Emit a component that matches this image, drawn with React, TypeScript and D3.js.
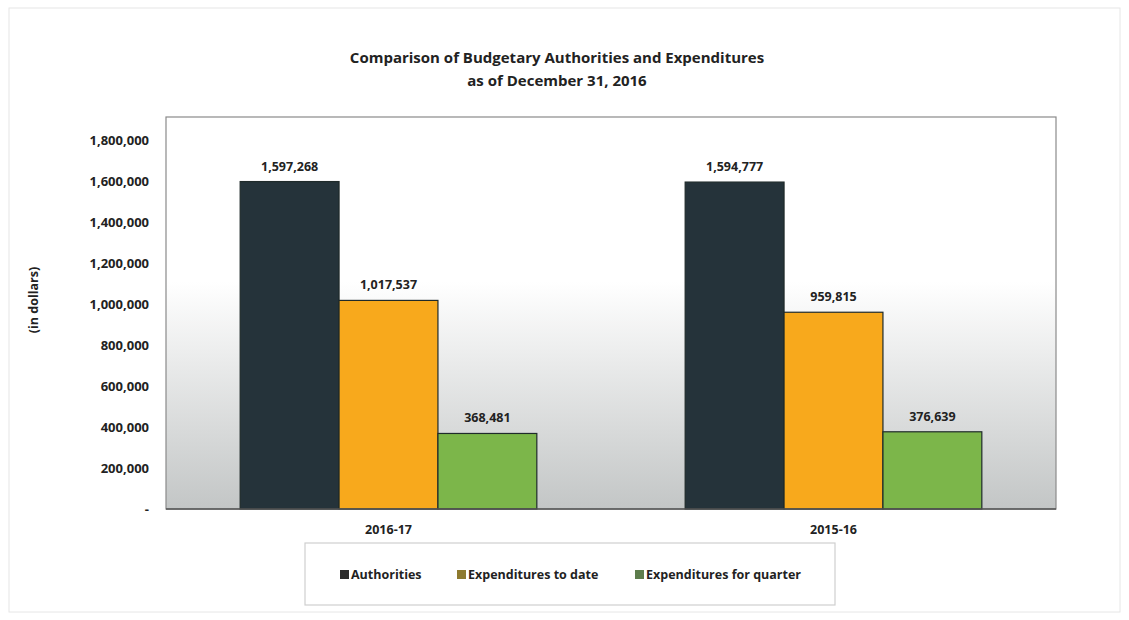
import React from "react";
import * as d3 from "d3";

const years = ["2016-17", "2015-16"];
const seriesNames = ["Authorities", "Expenditures to date", "Expenditures for quarter"];
const authorities = [1597268, 1594777];
const expendToDate = [1017537, 959815];
const expendQuarter = [368481, 376639];
const yTicks = [0, 200000, 400000, 600000, 800000, 1000000, 1200000, 1400000, 1600000, 1800000];
const colors = ["#25333a", "#f8a91c", "#7cb64a"];
const legendColors = ["#2b2b2b", "#8e7a2e", "#5d7d4c"];

const W = 1129;
const H = 620;
const plotL = 166, plotR = 1056, plotT = 117;
const font = "'Open Sans', 'Noto Sans', sans-serif";

export default function App() {
  const y = d3.scaleLinear().domain([0, 1800000]).range([509, 140]);
  const x0 = d3.scaleBand().domain(years).range([plotL, plotR]).paddingInner(0).paddingOuter(0);
  const x1 = d3.scaleBand().domain(seriesNames).range([0, x0.bandwidth()]).paddingOuter(0.75).paddingInner(0);
  const series = [authorities, expendToDate, expendQuarter];
  const fmt = d3.format(",");
  const plotB = y(0);

  const legendX = [345, 462, 640];

  return (
    <svg width={W} height={H} style={{ position: "absolute", left: 0, top: 0, background: "#fff" }}>
      <defs>
        <linearGradient id="bg" x1="0" y1="0" x2="0" y2="1">
          <stop offset="0" stopColor="#ffffff" />
          <stop offset="0.42" stopColor="#ffffff" />
          <stop offset="1" stopColor="#c3c6c6" />
        </linearGradient>
      </defs>
      <rect x={9} y={8} width={1111} height={604} fill="none" stroke="#e6e6e6" strokeWidth={1} />
      <text x={557} y={63} textAnchor="middle" fontFamily={font} fontWeight={700} fontSize={15} fill="#222">
        Comparison of Budgetary Authorities and Expenditures
      </text>
      <text x={557} y={86} textAnchor="middle" fontFamily={font} fontWeight={700} fontSize={15} fill="#222">
        as of December 31, 2016
      </text>

      <rect x={plotL} y={plotT} width={plotR - plotL} height={plotB - plotT} fill="url(#bg)" stroke="#8a8a8a" strokeWidth={1.2} />

      {yTicks.map((t) => (
        <text key={t} x={149} y={y(t) + 4.5} textAnchor="end" fontFamily={font} fontWeight={700} fontSize={13} fill="#222">
          {t === 0 ? "-" : fmt(t)}
        </text>
      ))}

      <text transform={`translate(38,300) rotate(-90)`} textAnchor="middle" fontFamily={font} fontWeight={700} fontSize={12.5} fill="#222">
        (in dollars)
      </text>

      {years.map((yr, i) => (
        <g key={yr} transform={`translate(${x0(yr)},0)`}>
          {seriesNames.map((s, j) => {
            const v = series[j][i];
            const bx = x1(s)!;
            return (
              <g key={s}>
                <rect x={bx} y={y(v)} width={x1.bandwidth()} height={plotB - y(v)} fill={colors[j]} stroke="#1f2a2a" strokeWidth={1.2} />
                <text x={bx + x1.bandwidth() / 2} y={y(v) - 11} textAnchor="middle" fontFamily={font} fontWeight={700} fontSize={12.5} fill="#222">
                  {fmt(v)}
                </text>
              </g>
            );
          })}
          <text x={x0.bandwidth() / 2} y={534} textAnchor="middle" fontFamily={font} fontWeight={700} fontSize={12.5} fill="#222">
            {yr}
          </text>
        </g>
      ))}
      <line x1={plotL} x2={plotR} y1={plotB} y2={plotB} stroke="#555" strokeWidth={1.3} />

      <rect x={305} y={543} width={530} height={62} fill="#fff" stroke="#cfcfcf" strokeWidth={1.2} />
      {seriesNames.map((s, j) => (
        <g key={s}>
          <rect x={legendX[j] - 5} y={570} width={9} height={9} fill={legendColors[j]} />
          <text x={legendX[j] + 6} y={579} fontFamily={font} fontWeight={700} fontSize={12.5} fill="#222">
            {s}
          </text>
        </g>
      ))}
    </svg>
  );
}
